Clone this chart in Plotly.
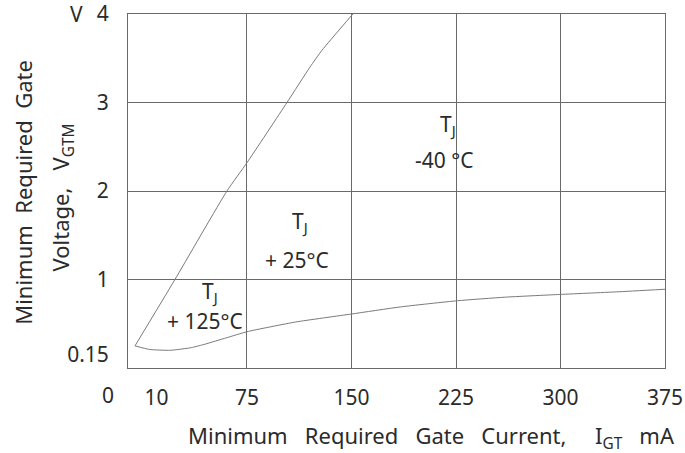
import plotly.graph_objects as go

# Data (x in mA, y in V)
tj_minus40_x = [-5.4, 23.3, 60.6, 75.0, 103.7, 120.2, 128.8, 151.0]
tj_minus40_y = [0.25, 1.00, 2.00, 2.32, 3.00, 3.40, 3.59, 4.00]

tj_125_x = [-5.4, 5, 20, 35, 45, 60, 75, 110, 150, 185, 226, 260, 298, 340, 375]
tj_125_y = [0.25, 0.21, 0.20, 0.23, 0.27, 0.34, 0.41, 0.52, 0.61, 0.69, 0.76, 0.80, 0.83, 0.86, 0.89]

x_tick_vals = [10, 75, 150, 225, 300, 375]
x_tick_text = ["10", "75", "150", "225", "300", "375"]
x_grid_vals = [75, 150, 225, 300, 375]
y_tick_vals = [0.15, 1, 2, 3, 4]
y_tick_text = ["0.15", "1", "2", "3", "4"]
y_grid_vals = [1, 2, 3, 4]

FONT = "Noto Sans"
TXT = "#2b2b2b"
GRID = "#6a6a6a"
CURVE = "#7a7a7a"
FS = 21
FT = 22

fig = go.Figure()
fig.add_trace(go.Scatter(x=tj_minus40_x, y=tj_minus40_y, mode="lines",
                         line=dict(color=CURVE, width=1, shape="spline", smoothing=0.5),
                         hoverinfo="skip", showlegend=False))
fig.add_trace(go.Scatter(x=tj_125_x, y=tj_125_y, mode="lines",
                         line=dict(color=CURVE, width=1, shape="spline", smoothing=0.5),
                         hoverinfo="skip", showlegend=False))

fig.update_layout(
    width=685, height=453,
    margin=dict(l=128, r=20, t=14, b=85, autoexpand=False),
    paper_bgcolor="white", plot_bgcolor="white",
    font=dict(family=FONT, size=FS, color=TXT),
    showlegend=False,
)
fig.update_xaxes(
    range=[-10.4, 375], tickmode="array", tickvals=x_tick_vals, ticktext=x_tick_text,
    showgrid=False, zeroline=False, ticks="", ticklabelstandoff=11, automargin=False,
    ticklabeloverflow="allow",
    showline=True, mirror=True, linecolor=GRID, linewidth=1,
    minor=dict(tickmode="array", tickvals=x_grid_vals, showgrid=True,
               gridcolor=GRID, gridwidth=1, ticks=""),
    tickfont=dict(size=FS, color=TXT),
)
fig.update_yaxes(
    range=[0, 4], tickmode="array", tickvals=y_tick_vals, ticktext=y_tick_text,
    showgrid=False, zeroline=False, ticks="", ticklabelstandoff=14, automargin=False,
    ticklabeloverflow="allow",
    showline=True, mirror=True, linecolor=GRID, linewidth=1,
    minor=dict(tickmode="array", tickvals=y_grid_vals, showgrid=True,
               gridcolor=GRID, gridwidth=1, ticks=""),
    tickfont=dict(size=FS, color=TXT),
)

nb = "\u00a0"
s3 = nb * 3
ann = [
    dict(text="V", x=-0.095, y=1.0, xref="paper", yref="paper", xanchor="center", yanchor="middle"),
    dict(text="0", x=-0.037, y=-0.076, xref="paper", yref="paper", xanchor="center", yanchor="middle"),
    dict(text=f"Minimum{s3}Required{s3}Gate{s3}Current,{s3}{nb}{nb}I<sub>GT</sub>{s3}mA",
         x=1.022, y=-0.195, xref="paper", yref="paper", xanchor="right", yanchor="middle",
         font=dict(family=FONT, size=FT, color=TXT)),
    dict(text=f"Minimum{nb}{nb}Required{nb}{nb}Gate", x=-0.196, y=0.497, xref="paper", yref="paper",
         textangle=-90, xanchor="center", yanchor="middle",
         font=dict(family=FONT, size=FT, color=TXT)),
    dict(text=f"Voltage,{s3}V<sub>GTM</sub>", x=-0.122, y=0.483, xref="paper", yref="paper",
         textangle=-90, xanchor="center", yanchor="middle",
         font=dict(family=FONT, size=FT, color=TXT)),
    dict(text="T<sub>J</sub>", x=219, y=2.75, xref="x", yref="y"),
    dict(text="-40 °C", x=217, y=2.35, xref="x", yref="y"),
    dict(text="T<sub>J</sub>", x=113, y=1.65, xref="x", yref="y"),
    dict(text="+ 25°C", x=111, y=1.22, xref="x", yref="y"),
    dict(text="T<sub>J</sub>", x=48.4, y=0.86, xref="x", yref="y"),
    dict(text="+ 125°C", x=44.8, y=0.53, xref="x", yref="y"),
]
for a in ann:
    a.setdefault("showarrow", False)
    a.setdefault("font", dict(family=FONT, size=FS, color=TXT))
    fig.add_annotation(**a)

fig.write_html("out.html", config={"displayModeBar": False},
               post_script="document.body.style.margin='0';document.body.style.padding='0';")
